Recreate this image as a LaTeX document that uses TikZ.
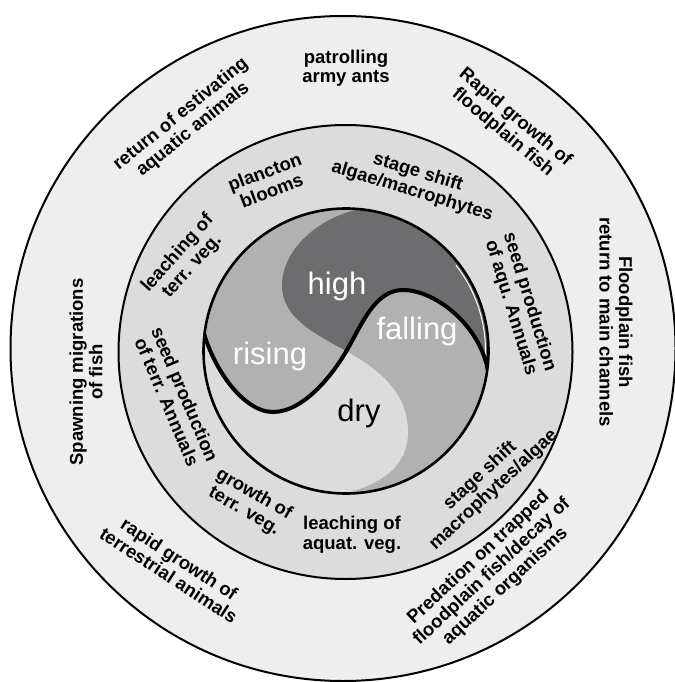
\documentclass[tikz,border=0pt]{standalone}
\usepackage{fontspec}
\setmainfont{Liberation Sans}
\definecolor{outerc}{HTML}{EDEEED}
\definecolor{midc}{HTML}{DCDCDD}
\definecolor{medc}{HTML}{B1B1B2}
\definecolor{darkc}{HTML}{6D6D6F}
\definecolor{dryc}{HTML}{DCDCDC}
\begin{document}
\begin{tikzpicture}[x=1pt,y=-1pt,
  lbl/.style={font=\bfseries\fontsize{18.5}{19.5}\selectfont, align=center, inner sep=0pt},
  big/.style={font=\fontsize{31}{31}\selectfont, inner sep=0pt, anchor=base}]
\fill[white] (0,0) rectangle (674,682);
\useasboundingbox (0,0) rectangle (674,682);
\filldraw[fill=outerc, line width=2pt] (343,348.5) circle[radius=332.5pt];
\filldraw[fill=midc, line width=2pt] (345.5,352) circle[radius=227pt];
\fill[medc] (346,351) circle[radius=142.5pt];
\begin{scope}
  \clip (346,351) circle[radius=142.5pt];
  % high
  \begin{scope}
    \clip (380,207) .. controls (330,207) and (282,245) .. (282,285)
      .. controls (282,318) and (314,333) .. (346,351)
      .. controls (378,369) and (408,392) .. (408,432)
      .. controls (408,475) and (365,492) .. (320,498)
      -- (320,520) -- (540,520) -- (540,180) -- (380,180) -- cycle;
    \fill[darkc] (150,330) -- (203,330) .. controls (213,368) and (243,412) .. (273,412)
      .. controls (303,412) and (332,376) .. (347,350)
      .. controls (362,324) and (375,290) .. (403,290)
      .. controls (435,290) and (480,325) .. (488,371)
      -- (540,371) -- (540,180) -- (150,180) -- cycle;
    \draw[white, line width=1pt] plot[domain=-6:38, samples=40] ({346+139.5*cos(\x)},{351-139.5*sin(\x)});
  \end{scope}
  % dry
  \begin{scope}
    \clip (380,207) .. controls (330,207) and (282,245) .. (282,285)
      .. controls (282,318) and (314,333) .. (346,351)
      .. controls (378,369) and (408,392) .. (408,432)
      .. controls (408,475) and (365,492) .. (320,498)
      -- (320,520) -- (150,520) -- (150,180) -- (380,180) -- cycle;
    \fill[dryc] (150,330) -- (203,330) .. controls (213,368) and (243,412) .. (273,412)
      .. controls (303,412) and (332,376) .. (347,350)
      .. controls (362,324) and (375,290) .. (403,290)
      .. controls (435,290) and (480,325) .. (488,371)
      -- (540,371) -- (540,520) -- (150,520) -- cycle;
  \end{scope}
  \draw[line width=4pt] (196,330) -- (203,330) .. controls (213,368) and (243,412) .. (273,412)
      .. controls (303,412) and (332,376) .. (347,350)
      .. controls (362,324) and (375,290) .. (403,290)
      .. controls (435,290) and (480,325) .. (488,371) -- (490,380);
\end{scope}
\draw[line width=2.6pt] (346,351) circle[radius=142.5pt];
% inner words
\node[big, text=white] (high) at (337,294) {high};
\node[big, text=white] (rising) at (270,364) {rising};
\node[big, text=white] (falling) at (417,339) {falling};
\node[big] (dry) at (359,421) {dry};
% outer ring
\node[lbl] (ants) at (346,68) {patrolling\\army ants};
\node[lbl, rotate=39] (estiv) at (187,122) {return of estivating\\aquatic animals};
\node[lbl, rotate=-40] (rapidfish) at (509,125) {Rapid growth of\\floodplain fish};
\node[lbl, rotate=-90] (returnfish) at (616,322) {Floodplain fish\\return to main channels};
\node[lbl, rotate=90] (spawn) at (86,372) {Spawning migrations\\of fish};
\node[lbl, rotate=-33] (terranim) at (174,567) {rapid growth of\\terrestrial animals};
\node[lbl, rotate=43] (pred) at (492,572) {Predation on trapped\\floodplain fish/decay of\\aquatic organisms};
% middle ring
\node[lbl, rotate=21] (planc) at (268,181) {plancton\\blooms};
\node[lbl, rotate=-17] (shiftA) at (415,182) {stage shift\\algae/macrophytes};
\node[lbl, rotate=-73] (seedA) at (520,305) {seed production\\of aqu. Annuals};
\node[lbl, rotate=48] (leachT) at (185,260) {leaching of\\terr. veg.};
\node[lbl, rotate=-67] (seedT) at (176,398) {seed production\\of terr. Annuals};
\node[lbl, rotate=-30] (growT) at (249,503) {growth of\\terr. veg.};
\node[lbl] (leachA) at (352,535) {leaching of\\aquat. veg.};
\node[lbl, rotate=43] (shiftM) at (487,483) {stage shift\\macrophytes/algae};
\end{tikzpicture}
\end{document}
